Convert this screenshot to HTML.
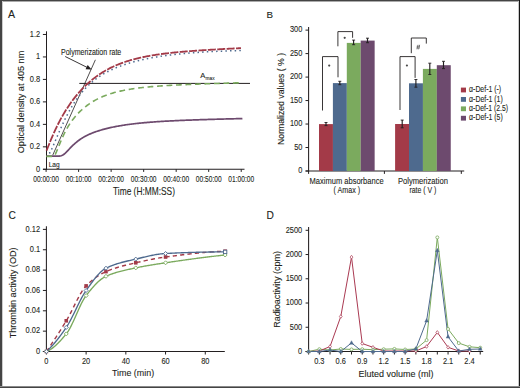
<!DOCTYPE html>
<html><head><meta charset="utf-8"><style>
html,body{margin:0;padding:0;background:#fff;}
body{width:520px;height:388px;overflow:hidden;position:relative;}
svg{position:absolute;left:0;top:0;display:block;}
text{font-family:"Liberation Sans", sans-serif;stroke:#231f20;stroke-width:0.1px;}
</style></head><body>
<svg width="520" height="388" viewBox="0 0 520 388">
<rect x="0" y="0" width="520" height="388" fill="#fff"/>
<text x="8.00" y="17.80" font-size="10.6" text-anchor="start" fill="#231f20" >A</text>
<text x="266.60" y="17.70" font-size="9.8" text-anchor="start" fill="#231f20" >B</text>
<text x="8.40" y="218.90" font-size="10.2" text-anchor="start" fill="#231f20" >C</text>
<text x="266.60" y="218.90" font-size="10.2" text-anchor="start" fill="#231f20" >D</text>
<line x1="46.50" y1="31.30" x2="46.50" y2="169.80" stroke="#231f20" stroke-width="1.05" />
<line x1="43.00" y1="169.30" x2="244.50" y2="169.30" stroke="#231f20" stroke-width="1.05" />
<line x1="42.90" y1="169.30" x2="46.50" y2="169.30" stroke="#231f20" stroke-width="1.0" />
<text x="40.10" y="171.60" font-size="8.8" text-anchor="end" fill="#231f20" textLength="4.14" lengthAdjust="spacingAndGlyphs" >0</text>
<line x1="42.90" y1="146.83" x2="46.50" y2="146.83" stroke="#231f20" stroke-width="1.0" />
<text x="40.10" y="149.13" font-size="8.8" text-anchor="end" fill="#231f20" textLength="10.34" lengthAdjust="spacingAndGlyphs" >0.2</text>
<line x1="42.90" y1="124.36" x2="46.50" y2="124.36" stroke="#231f20" stroke-width="1.0" />
<text x="40.10" y="126.66" font-size="8.8" text-anchor="end" fill="#231f20" textLength="10.34" lengthAdjust="spacingAndGlyphs" >0.4</text>
<line x1="42.90" y1="101.89" x2="46.50" y2="101.89" stroke="#231f20" stroke-width="1.0" />
<text x="40.10" y="104.19" font-size="8.8" text-anchor="end" fill="#231f20" textLength="10.34" lengthAdjust="spacingAndGlyphs" >0.6</text>
<line x1="42.90" y1="79.42" x2="46.50" y2="79.42" stroke="#231f20" stroke-width="1.0" />
<text x="40.10" y="81.72" font-size="8.8" text-anchor="end" fill="#231f20" textLength="10.34" lengthAdjust="spacingAndGlyphs" >0.8</text>
<line x1="42.90" y1="56.95" x2="46.50" y2="56.95" stroke="#231f20" stroke-width="1.0" />
<text x="40.10" y="59.25" font-size="8.8" text-anchor="end" fill="#231f20" textLength="4.14" lengthAdjust="spacingAndGlyphs" >1</text>
<line x1="42.90" y1="34.48" x2="46.50" y2="34.48" stroke="#231f20" stroke-width="1.0" />
<text x="40.10" y="36.78" font-size="8.8" text-anchor="end" fill="#231f20" textLength="10.34" lengthAdjust="spacingAndGlyphs" >1.2</text>
<line x1="46.10" y1="169.30" x2="46.10" y2="171.90" stroke="#231f20" stroke-width="1.0" />
<text x="46.10" y="181.70" font-size="8.6" text-anchor="middle" fill="#231f20" textLength="25.8" lengthAdjust="spacingAndGlyphs" >00:00:00</text>
<line x1="78.62" y1="169.30" x2="78.62" y2="171.90" stroke="#231f20" stroke-width="1.0" />
<text x="78.62" y="181.70" font-size="8.6" text-anchor="middle" fill="#231f20" textLength="25.8" lengthAdjust="spacingAndGlyphs" >00:10:00</text>
<line x1="111.14" y1="169.30" x2="111.14" y2="171.90" stroke="#231f20" stroke-width="1.0" />
<text x="111.14" y="181.70" font-size="8.6" text-anchor="middle" fill="#231f20" textLength="25.8" lengthAdjust="spacingAndGlyphs" >00:20:00</text>
<line x1="143.66" y1="169.30" x2="143.66" y2="171.90" stroke="#231f20" stroke-width="1.0" />
<text x="143.66" y="181.70" font-size="8.6" text-anchor="middle" fill="#231f20" textLength="25.8" lengthAdjust="spacingAndGlyphs" >00:30:00</text>
<line x1="176.18" y1="169.30" x2="176.18" y2="171.90" stroke="#231f20" stroke-width="1.0" />
<text x="176.18" y="181.70" font-size="8.6" text-anchor="middle" fill="#231f20" textLength="25.8" lengthAdjust="spacingAndGlyphs" >00:40:00</text>
<line x1="208.70" y1="169.30" x2="208.70" y2="171.90" stroke="#231f20" stroke-width="1.0" />
<text x="208.70" y="181.70" font-size="8.6" text-anchor="middle" fill="#231f20" textLength="25.8" lengthAdjust="spacingAndGlyphs" >00:50:00</text>
<line x1="241.22" y1="169.30" x2="241.22" y2="171.90" stroke="#231f20" stroke-width="1.0" />
<text x="241.22" y="181.70" font-size="8.6" text-anchor="middle" fill="#231f20" textLength="25.8" lengthAdjust="spacingAndGlyphs" >01:00:00</text>
<text x="144.00" y="194.90" font-size="10.3" text-anchor="middle" fill="#231f20" textLength="62" lengthAdjust="spacingAndGlyphs" >Time (H:MM:SS)</text>
<text transform="translate(24.40,102.00) rotate(-90)" font-size="9.6" text-anchor="middle" fill="#231f20" textLength="102.4" lengthAdjust="spacingAndGlyphs" >Optical density at 405 nm</text>
<line x1="79.30" y1="83.40" x2="250.00" y2="83.40" stroke="#231f20" stroke-width="1.0" />
<text x="200.30" y="77.90" font-size="7.6" text-anchor="start" fill="#231f20" >A</text>
<text x="205.60" y="80.20" font-size="5.8" text-anchor="start" fill="#231f20" textLength="9" lengthAdjust="spacingAndGlyphs" >max</text>
<text x="61.00" y="55.30" font-size="9.0" text-anchor="start" fill="#231f20" textLength="60.3" lengthAdjust="spacingAndGlyphs" >Polymerization rate</text>
<line x1="65.20" y1="56.50" x2="87.50" y2="67.60" stroke="#231f20" stroke-width="0.9" />
<path d="M91.6,69.6 L85.6,69.2 L87.7,65.1 Z" fill="#231f20"/>
<line x1="52.80" y1="155.00" x2="95.40" y2="59.80" stroke="#231f20" stroke-width="0.8" />
<text x="48.70" y="167.00" font-size="7.8" text-anchor="start" fill="#231f20" textLength="11" lengthAdjust="spacingAndGlyphs" >Lag</text>
<path d="M46.30,156.20 L47.30,156.20 L48.30,156.20 L49.30,156.20 L50.30,156.20 L51.30,156.20 L52.30,156.20 L53.30,156.20 L54.30,156.20 L55.30,156.20 L56.30,156.20 L57.30,156.19 L58.30,156.16 L59.30,156.09 L60.30,155.96 L61.30,155.71 L62.30,155.32 L63.30,154.76 L64.30,154.03 L65.30,153.16 L66.30,152.18 L67.30,151.14 L68.30,150.07 L69.30,149.00 L70.30,147.95 L71.30,146.92 L72.30,145.91 L73.30,144.95 L74.30,144.02 L75.30,143.13 L76.30,142.28 L77.30,141.47 L78.30,140.69 L79.30,139.96 L80.30,139.26 L81.30,138.59 L82.30,137.96 L83.30,137.36 L84.30,136.79 L85.30,136.24 L86.30,135.72 L87.30,135.22 L88.30,134.75 L89.30,134.29 L90.30,133.85 L91.30,133.43 L92.30,133.03 L93.30,132.64 L94.30,132.27 L95.30,131.91 L96.30,131.56 L97.30,131.22 L98.30,130.89 L99.30,130.58 L100.30,130.27 L101.30,129.97 L102.30,129.69 L103.30,129.41 L104.30,129.14 L105.30,128.87 L106.30,128.62 L107.30,128.37 L108.30,128.13 L109.30,127.90 L110.30,127.67 L111.30,127.45 L112.30,127.24 L113.30,127.03 L114.30,126.82 L115.30,126.63 L116.30,126.44 L117.30,126.25 L118.30,126.07 L119.30,125.89 L120.30,125.72 L121.30,125.55 L122.30,125.39 L123.30,125.23 L124.30,125.08 L125.30,124.93 L126.30,124.78 L127.30,124.64 L128.30,124.50 L129.30,124.37 L130.30,124.24 L131.30,124.11 L132.30,123.99 L133.30,123.87 L134.30,123.75 L135.30,123.63 L136.30,123.52 L137.30,123.41 L138.30,123.31 L139.30,123.20 L140.30,123.10 L141.30,123.00 L142.30,122.90 L143.30,122.81 L144.30,122.72 L145.30,122.63 L146.30,122.54 L147.30,122.46 L148.30,122.37 L149.30,122.29 L150.30,122.21 L151.30,122.13 L152.30,122.06 L153.30,121.98 L154.30,121.91 L155.30,121.84 L156.30,121.77 L157.30,121.70 L158.30,121.64 L159.30,121.57 L160.30,121.51 L161.30,121.44 L162.30,121.38 L163.30,121.32 L164.30,121.27 L165.30,121.21 L166.30,121.15 L167.30,121.10 L168.30,121.04 L169.30,120.99 L170.30,120.94 L171.30,120.89 L172.30,120.84 L173.30,120.79 L174.30,120.74 L175.30,120.69 L176.30,120.64 L177.30,120.60 L178.30,120.55 L179.30,120.51 L180.30,120.46 L181.30,120.42 L182.30,120.38 L183.30,120.34 L184.30,120.30 L185.30,120.26 L186.30,120.22 L187.30,120.18 L188.30,120.14 L189.30,120.10 L190.30,120.06 L191.30,120.03 L192.30,119.99 L193.30,119.96 L194.30,119.92 L195.30,119.89 L196.30,119.85 L197.30,119.82 L198.30,119.78 L199.30,119.75 L200.30,119.72 L201.30,119.68 L202.30,119.65 L203.30,119.62 L204.30,119.59 L205.30,119.56 L206.30,119.53 L207.30,119.50 L208.30,119.47 L209.30,119.44 L210.30,119.41 L211.30,119.38 L212.30,119.35 L213.30,119.32 L214.30,119.29 L215.30,119.26 L216.30,119.24 L217.30,119.21 L218.30,119.18 L219.30,119.15 L220.30,119.13 L221.30,119.10 L222.30,119.07 L223.30,119.05 L224.30,119.02 L225.30,119.00 L226.30,118.97 L227.30,118.94 L228.30,118.92 L229.30,118.89 L230.30,118.87 L231.30,118.84 L232.30,118.82 L233.30,118.79 L234.30,118.77 L235.30,118.74 L236.30,118.72 L237.30,118.70 L238.30,118.67 L239.30,118.65 L240.30,118.63 L241.30,118.61 L242.30,118.60 L242.40,118.59" fill="none" stroke="#6d4a6e" stroke-width="1.7"/>
<path d="M46.30,156.40 L47.30,156.40 L48.30,156.40 L49.30,156.40 L50.30,156.40 L51.30,156.39 L52.30,156.37 L53.30,156.20 L54.30,155.57 L55.30,154.21 L56.30,152.15 L57.30,149.76 L58.30,147.29 L59.30,144.83 L60.30,142.42 L61.30,140.07 L62.30,137.79 L63.30,135.61 L64.30,133.52 L65.30,131.53 L66.30,129.64 L67.30,127.86 L68.30,126.16 L69.30,124.56 L70.30,123.04 L71.30,121.60 L72.30,120.23 L73.30,118.92 L74.30,117.67 L75.30,116.48 L76.30,115.33 L77.30,114.23 L78.30,113.17 L79.30,112.15 L80.30,111.17 L81.30,110.23 L82.30,109.32 L83.30,108.45 L84.30,107.61 L85.30,106.79 L86.30,106.01 L87.30,105.26 L88.30,104.54 L89.30,103.84 L90.30,103.16 L91.30,102.51 L92.30,101.89 L93.30,101.29 L94.30,100.71 L95.30,100.15 L96.30,99.61 L97.30,99.09 L98.30,98.59 L99.30,98.10 L100.30,97.64 L101.30,97.19 L102.30,96.75 L103.30,96.33 L104.30,95.93 L105.30,95.54 L106.30,95.17 L107.30,94.81 L108.30,94.46 L109.30,94.12 L110.30,93.79 L111.30,93.48 L112.30,93.18 L113.30,92.88 L114.30,92.60 L115.30,92.33 L116.30,92.06 L117.30,91.81 L118.30,91.56 L119.30,91.33 L120.30,91.10 L121.30,90.87 L122.30,90.66 L123.30,90.45 L124.30,90.25 L125.30,90.06 L126.30,89.87 L127.30,89.69 L128.30,89.51 L129.30,89.34 L130.30,89.18 L131.30,89.02 L132.30,88.86 L133.30,88.71 L134.30,88.57 L135.30,88.43 L136.30,88.29 L137.30,88.16 L138.30,88.03 L139.30,87.91 L140.30,87.79 L141.30,87.67 L142.30,87.56 L143.30,87.45 L144.30,87.34 L145.30,87.24 L146.30,87.13 L147.30,87.04 L148.30,86.94 L149.30,86.85 L150.30,86.76 L151.30,86.67 L152.30,86.58 L153.30,86.50 L154.30,86.42 L155.30,86.34 L156.30,86.26 L157.30,86.19 L158.30,86.11 L159.30,86.04 L160.30,85.97 L161.30,85.90 L162.30,85.84 L163.30,85.77 L164.30,85.71 L165.30,85.64 L166.30,85.58 L167.30,85.52 L168.30,85.46 L169.30,85.41 L170.30,85.35 L171.30,85.30 L172.30,85.24 L173.30,85.19 L174.30,85.14 L175.30,85.08 L176.30,85.03 L177.30,84.99 L178.30,84.94 L179.30,84.89 L180.30,84.84 L181.30,84.80 L182.30,84.75 L183.30,84.71 L184.30,84.66 L185.30,84.62 L186.30,84.58 L187.30,84.53 L188.30,84.49 L189.30,84.45 L190.30,84.41 L191.30,84.37 L192.30,84.33 L193.30,84.29 L194.30,84.25 L195.30,84.22 L196.30,84.18 L197.30,84.14 L198.30,84.10 L199.30,84.07 L200.30,84.03 L201.30,84.00 L202.30,83.96 L203.30,83.93 L204.30,83.89 L205.30,83.86 L206.30,83.82 L207.30,83.79 L208.30,83.76 L209.30,83.72 L210.30,83.69 L211.30,83.66 L212.30,83.62 L213.30,83.59 L214.30,83.56 L215.30,83.53 L216.30,83.49 L217.30,83.46 L218.30,83.43 L219.30,83.40 L220.30,83.37 L221.30,83.34 L222.30,83.31 L223.30,83.28 L224.30,83.25 L225.30,83.22 L226.30,83.19 L227.30,83.16 L228.30,83.13 L229.30,83.10 L230.30,83.07 L231.30,83.04 L232.30,83.01 L233.30,82.98 L234.30,82.95 L235.30,82.92 L236.30,82.89 L237.30,82.86 L238.30,82.84 L238.90,82.82" fill="none" stroke="#7baa5e" stroke-width="1.6" stroke-dasharray="5.8 3.7"/>
<path d="M49.00,152.91 L50.00,152.74 L51.00,150.73 L52.00,148.53 L53.00,146.25 L54.00,143.92 L55.00,141.58 L56.00,139.22 L57.00,136.88 L58.00,134.55 L59.00,132.25 L60.00,129.98 L61.00,127.75 L62.00,125.56 L63.00,123.41 L64.00,121.31 L65.00,119.26 L66.00,117.26 L67.00,115.31 L68.00,113.42 L69.00,111.57 L70.00,109.79 L71.00,108.05 L72.00,106.36 L73.00,104.73 L74.00,103.15 L75.00,101.62 L76.00,100.14 L77.00,98.71 L78.00,97.32 L79.00,95.98 L80.00,94.68 L81.00,93.43 L82.00,92.22 L83.00,91.05 L84.00,89.92 L85.00,88.83 L86.00,87.78 L87.00,86.76 L88.00,85.77 L89.00,84.82 L90.00,83.90 L91.00,83.01 L92.00,82.14 L93.00,81.31 L94.00,80.50 L95.00,79.72 L96.00,78.97 L97.00,78.24 L98.00,77.53 L99.00,76.84 L100.00,76.18 L101.00,75.53 L102.00,74.90 L103.00,74.30 L104.00,73.71 L105.00,73.14 L106.00,72.58 L107.00,72.04 L108.00,71.52 L109.00,71.01 L110.00,70.51 L111.00,70.03 L112.00,69.56 L113.00,69.10 L114.00,68.66 L115.00,68.22 L116.00,67.80 L117.00,67.39 L118.00,66.99 L119.00,66.60 L120.00,66.22 L121.00,65.85 L122.00,65.49 L123.00,65.14 L124.00,64.79 L125.00,64.45 L126.00,64.13 L127.00,63.80 L128.00,63.49 L129.00,63.19 L130.00,62.89 L131.00,62.59 L132.00,62.31 L133.00,62.03 L134.00,61.76 L135.00,61.49 L136.00,61.23 L137.00,60.98 L138.00,60.73 L139.00,60.48 L140.00,60.25 L141.00,60.01 L142.00,59.78 L143.00,59.56 L144.00,59.34 L145.00,59.13 L146.00,58.92 L147.00,58.72 L148.00,58.52 L149.00,58.32 L150.00,58.13 L151.00,57.94 L152.00,57.76 L153.00,57.58 L154.00,57.40 L155.00,57.23 L156.00,57.06 L157.00,56.90 L158.00,56.74 L159.00,56.58 L160.00,56.42 L161.00,56.27 L162.00,56.12 L163.00,55.98 L164.00,55.84 L165.00,55.70 L166.00,55.56 L167.00,55.43 L168.00,55.30 L169.00,55.17 L170.00,55.04 L171.00,54.92 L172.00,54.80 L173.00,54.68 L174.00,54.57 L175.00,54.46 L176.00,54.35 L177.00,54.24 L178.00,54.13 L179.00,54.03 L180.00,53.93 L181.00,53.83 L182.00,53.73 L183.00,53.64 L184.00,53.54 L185.00,53.45 L186.00,53.36 L187.00,53.28 L188.00,53.19 L189.00,53.11 L190.00,53.02 L191.00,52.94 L192.00,52.86 L193.00,52.79 L194.00,52.71 L195.00,52.64 L196.00,52.57 L197.00,52.49 L198.00,52.42 L199.00,52.36 L200.00,52.29 L201.00,52.23 L202.00,52.16 L203.00,52.10 L204.00,52.04 L205.00,51.98 L206.00,51.92 L207.00,51.86 L208.00,51.81 L209.00,51.75 L210.00,51.70 L211.00,51.64 L212.00,51.59 L213.00,51.54 L214.00,51.49 L215.00,51.44 L216.00,51.40 L217.00,51.35 L218.00,51.30 L219.00,51.26 L220.00,51.21 L221.00,51.17 L222.00,51.13 L223.00,51.09 L224.00,51.05 L225.00,51.01 L226.00,50.97 L227.00,50.93 L228.00,50.90 L229.00,50.86 L230.00,50.82 L231.00,50.79 L232.00,50.76 L233.00,50.72 L234.00,50.69 L235.00,50.66 L236.00,50.63 L237.00,50.60 L238.00,50.57 L239.00,50.54 L240.00,50.51 L241.00,50.48" fill="none" stroke="#4e6a8e" stroke-width="1.5" stroke-dasharray="1.5 3.15"/>
<path d="M46.50,150.59 L47.50,148.21 L48.50,145.71 L49.50,143.22 L50.50,140.77 L51.50,138.37 L52.50,136.03 L53.50,133.75 L54.50,131.53 L55.50,129.38 L56.50,127.28 L57.50,125.24 L58.50,123.25 L59.50,121.33 L60.50,119.45 L61.50,117.63 L62.50,115.85 L63.50,114.12 L64.50,112.44 L65.50,110.81 L66.50,109.21 L67.50,107.66 L68.50,106.15 L69.50,104.68 L70.50,103.24 L71.50,101.84 L72.50,100.48 L73.50,99.15 L74.50,97.86 L75.50,96.60 L76.50,95.37 L77.50,94.17 L78.50,93.01 L79.50,91.87 L80.50,90.76 L81.50,89.68 L82.50,88.62 L83.50,87.60 L84.50,86.60 L85.50,85.62 L86.50,84.67 L87.50,83.74 L88.50,82.84 L89.50,81.96 L90.50,81.10 L91.50,80.26 L92.50,79.45 L93.50,78.65 L94.50,77.88 L95.50,77.13 L96.50,76.39 L97.50,75.68 L98.50,74.98 L99.50,74.30 L100.50,73.64 L101.50,73.00 L102.50,72.37 L103.50,71.76 L104.50,71.17 L105.50,70.59 L106.50,70.02 L107.50,69.48 L108.50,68.94 L109.50,68.42 L110.50,67.91 L111.50,67.42 L112.50,66.94 L113.50,66.48 L114.50,66.02 L115.50,65.58 L116.50,65.15 L117.50,64.73 L118.50,64.32 L119.50,63.92 L120.50,63.54 L121.50,63.16 L122.50,62.80 L123.50,62.44 L124.50,62.09 L125.50,61.76 L126.50,61.43 L127.50,61.11 L128.50,60.80 L129.50,60.49 L130.50,60.20 L131.50,59.91 L132.50,59.63 L133.50,59.36 L134.50,59.10 L135.50,58.84 L136.50,58.59 L137.50,58.34 L138.50,58.10 L139.50,57.87 L140.50,57.65 L141.50,57.43 L142.50,57.21 L143.50,57.00 L144.50,56.80 L145.50,56.60 L146.50,56.41 L147.50,56.22 L148.50,56.03 L149.50,55.86 L150.50,55.68 L151.50,55.51 L152.50,55.34 L153.50,55.18 L154.50,55.02 L155.50,54.87 L156.50,54.72 L157.50,54.57 L158.50,54.43 L159.50,54.29 L160.50,54.15 L161.50,54.01 L162.50,53.88 L163.50,53.75 L164.50,53.63 L165.50,53.51 L166.50,53.39 L167.50,53.27 L168.50,53.15 L169.50,53.04 L170.50,52.93 L171.50,52.82 L172.50,52.72 L173.50,52.61 L174.50,52.51 L175.50,52.41 L176.50,52.31 L177.50,52.22 L178.50,52.12 L179.50,52.03 L180.50,51.94 L181.50,51.85 L182.50,51.76 L183.50,51.68 L184.50,51.59 L185.50,51.51 L186.50,51.43 L187.50,51.35 L188.50,51.27 L189.50,51.19 L190.50,51.11 L191.50,51.04 L192.50,50.96 L193.50,50.89 L194.50,50.82 L195.50,50.74 L196.50,50.67 L197.50,50.60 L198.50,50.53 L199.50,50.47 L200.50,50.40 L201.50,50.33 L202.50,50.27 L203.50,50.20 L204.50,50.14 L205.50,50.07 L206.50,50.01 L207.50,49.95 L208.50,49.89 L209.50,49.83 L210.50,49.77 L211.50,49.71 L212.50,49.65 L213.50,49.59 L214.50,49.53 L215.50,49.47 L216.50,49.41 L217.50,49.36 L218.50,49.30 L219.50,49.24 L220.50,49.19 L221.50,49.13 L222.50,49.08 L223.50,49.02 L224.50,48.97 L225.50,48.91 L226.50,48.86 L227.50,48.81 L228.50,48.75 L229.50,48.70 L230.50,48.65 L231.50,48.60 L232.50,48.55 L233.50,48.49 L234.50,48.44 L235.50,48.39 L236.50,48.34 L237.50,48.29 L238.50,48.24 L239.50,48.19 L240.50,48.14 L241.00,48.11" fill="none" stroke="#a33a48" stroke-width="1.8" stroke-dasharray="8 1.4"/>
<line x1="308.60" y1="27.00" x2="308.60" y2="171.50" stroke="#231f20" stroke-width="1.05" />
<line x1="305.60" y1="171.00" x2="464.20" y2="171.00" stroke="#231f20" stroke-width="1.05" />
<line x1="305.50" y1="171.00" x2="308.60" y2="171.00" stroke="#231f20" stroke-width="1.0" />
<text x="302.40" y="173.30" font-size="8.8" text-anchor="end" fill="#231f20" textLength="4.14" lengthAdjust="spacingAndGlyphs" >0</text>
<line x1="305.50" y1="147.52" x2="308.60" y2="147.52" stroke="#231f20" stroke-width="1.0" />
<text x="302.40" y="149.82" font-size="8.8" text-anchor="end" fill="#231f20" textLength="8.27" lengthAdjust="spacingAndGlyphs" >50</text>
<line x1="305.50" y1="124.04" x2="308.60" y2="124.04" stroke="#231f20" stroke-width="1.0" />
<text x="302.40" y="126.34" font-size="8.8" text-anchor="end" fill="#231f20" textLength="12.41" lengthAdjust="spacingAndGlyphs" >100</text>
<line x1="305.50" y1="100.56" x2="308.60" y2="100.56" stroke="#231f20" stroke-width="1.0" />
<text x="302.40" y="102.86" font-size="8.8" text-anchor="end" fill="#231f20" textLength="12.41" lengthAdjust="spacingAndGlyphs" >150</text>
<line x1="305.50" y1="77.08" x2="308.60" y2="77.08" stroke="#231f20" stroke-width="1.0" />
<text x="302.40" y="79.38" font-size="8.8" text-anchor="end" fill="#231f20" textLength="12.41" lengthAdjust="spacingAndGlyphs" >200</text>
<line x1="305.50" y1="53.60" x2="308.60" y2="53.60" stroke="#231f20" stroke-width="1.0" />
<text x="302.40" y="55.90" font-size="8.8" text-anchor="end" fill="#231f20" textLength="12.41" lengthAdjust="spacingAndGlyphs" >250</text>
<line x1="305.50" y1="30.12" x2="308.60" y2="30.12" stroke="#231f20" stroke-width="1.0" />
<text x="302.40" y="32.42" font-size="8.8" text-anchor="end" fill="#231f20" textLength="12.41" lengthAdjust="spacingAndGlyphs" >300</text>
<line x1="308.60" y1="171.00" x2="308.60" y2="173.90" stroke="#231f20" stroke-width="1.0" />
<line x1="384.40" y1="171.00" x2="384.40" y2="173.90" stroke="#231f20" stroke-width="1.0" />
<line x1="461.30" y1="171.00" x2="461.30" y2="173.90" stroke="#231f20" stroke-width="1.0" />
<rect x="319.00" y="124.10" width="13.95" height="46.90" fill="#a33a48"/>
<rect x="332.90" y="83.10" width="13.95" height="87.90" fill="#4e6a8e"/>
<rect x="346.80" y="42.90" width="13.95" height="128.10" fill="#7baa5e"/>
<rect x="360.70" y="40.60" width="13.95" height="130.40" fill="#6d4a6e"/>
<rect x="395.10" y="124.00" width="13.95" height="47.00" fill="#a33a48"/>
<rect x="409.00" y="83.30" width="13.95" height="87.70" fill="#4e6a8e"/>
<rect x="422.90" y="68.90" width="13.95" height="102.10" fill="#7baa5e"/>
<rect x="436.80" y="65.20" width="13.95" height="105.80" fill="#6d4a6e"/>
<line x1="326.00" y1="122.50" x2="326.00" y2="125.60" stroke="#231f20" stroke-width="1.15" />
<line x1="324.50" y1="122.50" x2="327.50" y2="122.50" stroke="#231f20" stroke-width="0.9" />
<line x1="324.50" y1="125.60" x2="327.50" y2="125.60" stroke="#231f20" stroke-width="0.9" />
<line x1="339.80" y1="81.30" x2="339.80" y2="84.70" stroke="#231f20" stroke-width="1.15" />
<line x1="338.30" y1="81.30" x2="341.30" y2="81.30" stroke="#231f20" stroke-width="0.9" />
<line x1="338.30" y1="84.70" x2="341.30" y2="84.70" stroke="#231f20" stroke-width="0.9" />
<line x1="353.60" y1="40.10" x2="353.60" y2="44.70" stroke="#231f20" stroke-width="1.15" />
<line x1="352.10" y1="40.10" x2="355.10" y2="40.10" stroke="#231f20" stroke-width="0.9" />
<line x1="352.10" y1="44.70" x2="355.10" y2="44.70" stroke="#231f20" stroke-width="0.9" />
<line x1="367.50" y1="38.20" x2="367.50" y2="42.70" stroke="#231f20" stroke-width="1.15" />
<line x1="366.00" y1="38.20" x2="369.00" y2="38.20" stroke="#231f20" stroke-width="0.9" />
<line x1="366.00" y1="42.70" x2="369.00" y2="42.70" stroke="#231f20" stroke-width="0.9" />
<line x1="402.20" y1="120.10" x2="402.20" y2="127.80" stroke="#231f20" stroke-width="1.15" />
<line x1="400.70" y1="120.10" x2="403.70" y2="120.10" stroke="#231f20" stroke-width="0.9" />
<line x1="400.70" y1="127.80" x2="403.70" y2="127.80" stroke="#231f20" stroke-width="0.9" />
<line x1="415.90" y1="79.50" x2="415.90" y2="87.20" stroke="#231f20" stroke-width="1.15" />
<line x1="414.40" y1="79.50" x2="417.40" y2="79.50" stroke="#231f20" stroke-width="0.9" />
<line x1="414.40" y1="87.20" x2="417.40" y2="87.20" stroke="#231f20" stroke-width="0.9" />
<line x1="429.80" y1="63.20" x2="429.80" y2="74.50" stroke="#231f20" stroke-width="1.15" />
<line x1="428.30" y1="63.20" x2="431.30" y2="63.20" stroke="#231f20" stroke-width="0.9" />
<line x1="428.30" y1="74.50" x2="431.30" y2="74.50" stroke="#231f20" stroke-width="0.9" />
<line x1="443.50" y1="61.30" x2="443.50" y2="68.60" stroke="#231f20" stroke-width="1.15" />
<line x1="442.00" y1="61.30" x2="445.00" y2="61.30" stroke="#231f20" stroke-width="0.9" />
<line x1="442.00" y1="68.60" x2="445.00" y2="68.60" stroke="#231f20" stroke-width="0.9" />
<path d="M322.5,110.5 L322.5,56.6 L338.0,56.6 L338.0,77.3" fill="none" stroke="#231f20" stroke-width="0.9"/>
<path d="M337.9,46.3 L337.9,31.6 L352.6,31.6 L352.6,37.8" fill="none" stroke="#231f20" stroke-width="0.9"/>
<path d="M400.0,110.0 L400.0,56.6 L415.1,56.6 L415.1,77.9" fill="none" stroke="#231f20" stroke-width="0.9"/>
<path d="M411.3,53.2 L411.3,38.0 L426.3,38.0 L426.3,43.6" fill="none" stroke="#231f20" stroke-width="0.9"/>
<circle cx="329.20" cy="65.60" r="1.1" fill="#4a4a4a"/>
<circle cx="344.70" cy="37.80" r="1.1" fill="#4a4a4a"/>
<circle cx="406.90" cy="65.50" r="1.1" fill="#4a4a4a"/>
<line x1="417.00" y1="49.30" x2="418.00" y2="44.80" stroke="#444" stroke-width="0.7" />
<line x1="418.60" y1="49.30" x2="419.60" y2="44.80" stroke="#444" stroke-width="0.7" />
<line x1="416.60" y1="46.30" x2="420.00" y2="46.30" stroke="#555" stroke-width="0.6" />
<line x1="416.40" y1="47.90" x2="419.80" y2="47.90" stroke="#555" stroke-width="0.6" />
<text x="346.60" y="184.10" font-size="8.8" text-anchor="middle" fill="#231f20" textLength="74" lengthAdjust="spacingAndGlyphs" >Maximum absorbance</text>
<text x="346.80" y="192.50" font-size="8.8" text-anchor="middle" fill="#231f20" textLength="26.6" lengthAdjust="spacingAndGlyphs" >( Amax )</text>
<text x="422.90" y="184.30" font-size="8.8" text-anchor="middle" fill="#231f20" textLength="50" lengthAdjust="spacingAndGlyphs" >Polymerization</text>
<text x="422.90" y="192.90" font-size="8.8" text-anchor="middle" fill="#231f20" textLength="27" lengthAdjust="spacingAndGlyphs" >rate ( V )</text>
<text transform="translate(284.00,98.90) rotate(-90)" font-size="8.6" text-anchor="middle" fill="#231f20" textLength="92" lengthAdjust="spacingAndGlyphs" >Normalized values ( % )</text>
<rect x="460.9" y="87.60" width="5.1" height="4.8" fill="#a33a48"/>
<text x="469.10" y="92.20" font-size="8.6" text-anchor="start" fill="#231f20" textLength="32" lengthAdjust="spacingAndGlyphs" >α-Def-1 (-)</text>
<rect x="460.9" y="97.00" width="5.1" height="4.8" fill="#4e6a8e"/>
<text x="469.10" y="101.60" font-size="8.6" text-anchor="start" fill="#231f20" textLength="33.6" lengthAdjust="spacingAndGlyphs" >α-Def-1 (1)</text>
<rect x="460.9" y="106.40" width="5.1" height="4.8" fill="#7baa5e"/>
<text x="469.10" y="111.00" font-size="8.6" text-anchor="start" fill="#231f20" textLength="39" lengthAdjust="spacingAndGlyphs" >α-Def-1 (2.5)</text>
<rect x="460.9" y="115.80" width="5.1" height="4.8" fill="#6d4a6e"/>
<text x="469.10" y="120.40" font-size="8.6" text-anchor="start" fill="#231f20" textLength="33.6" lengthAdjust="spacingAndGlyphs" >α-Def-1 (5)</text>
<line x1="46.40" y1="226.30" x2="46.40" y2="352.00" stroke="#231f20" stroke-width="1.05" />
<line x1="42.90" y1="351.50" x2="224.80" y2="351.50" stroke="#231f20" stroke-width="1.05" />
<line x1="42.90" y1="351.50" x2="46.40" y2="351.50" stroke="#231f20" stroke-width="1.0" />
<text x="40.10" y="353.80" font-size="8.8" text-anchor="end" fill="#231f20" textLength="4.14" lengthAdjust="spacingAndGlyphs" >0</text>
<line x1="42.90" y1="331.15" x2="46.40" y2="331.15" stroke="#231f20" stroke-width="1.0" />
<text x="40.10" y="333.45" font-size="8.8" text-anchor="end" fill="#231f20" textLength="14.48" lengthAdjust="spacingAndGlyphs" >0.02</text>
<line x1="42.90" y1="310.80" x2="46.40" y2="310.80" stroke="#231f20" stroke-width="1.0" />
<text x="40.10" y="313.10" font-size="8.8" text-anchor="end" fill="#231f20" textLength="14.48" lengthAdjust="spacingAndGlyphs" >0.04</text>
<line x1="42.90" y1="290.45" x2="46.40" y2="290.45" stroke="#231f20" stroke-width="1.0" />
<text x="40.10" y="292.75" font-size="8.8" text-anchor="end" fill="#231f20" textLength="14.48" lengthAdjust="spacingAndGlyphs" >0.06</text>
<line x1="42.90" y1="270.10" x2="46.40" y2="270.10" stroke="#231f20" stroke-width="1.0" />
<text x="40.10" y="272.40" font-size="8.8" text-anchor="end" fill="#231f20" textLength="14.48" lengthAdjust="spacingAndGlyphs" >0.08</text>
<line x1="42.90" y1="249.75" x2="46.40" y2="249.75" stroke="#231f20" stroke-width="1.0" />
<text x="40.10" y="252.05" font-size="8.8" text-anchor="end" fill="#231f20" textLength="10.34" lengthAdjust="spacingAndGlyphs" >0.1</text>
<line x1="42.90" y1="229.40" x2="46.40" y2="229.40" stroke="#231f20" stroke-width="1.0" />
<text x="40.10" y="231.70" font-size="8.8" text-anchor="end" fill="#231f20" textLength="14.48" lengthAdjust="spacingAndGlyphs" >0.12</text>
<line x1="46.40" y1="351.50" x2="46.40" y2="354.50" stroke="#231f20" stroke-width="1.0" />
<text x="46.40" y="364.30" font-size="8.8" text-anchor="middle" fill="#231f20" textLength="4.14" lengthAdjust="spacingAndGlyphs" >0</text>
<line x1="86.12" y1="351.50" x2="86.12" y2="354.50" stroke="#231f20" stroke-width="1.0" />
<text x="86.12" y="364.30" font-size="8.8" text-anchor="middle" fill="#231f20" textLength="8.27" lengthAdjust="spacingAndGlyphs" >20</text>
<line x1="125.84" y1="351.50" x2="125.84" y2="354.50" stroke="#231f20" stroke-width="1.0" />
<text x="125.84" y="364.30" font-size="8.8" text-anchor="middle" fill="#231f20" textLength="8.27" lengthAdjust="spacingAndGlyphs" >40</text>
<line x1="165.56" y1="351.50" x2="165.56" y2="354.50" stroke="#231f20" stroke-width="1.0" />
<text x="165.56" y="364.30" font-size="8.8" text-anchor="middle" fill="#231f20" textLength="8.27" lengthAdjust="spacingAndGlyphs" >60</text>
<line x1="205.28" y1="351.50" x2="205.28" y2="354.50" stroke="#231f20" stroke-width="1.0" />
<text x="205.28" y="364.30" font-size="8.8" text-anchor="middle" fill="#231f20" textLength="8.27" lengthAdjust="spacingAndGlyphs" >80</text>
<text x="133.00" y="375.70" font-size="9.7" text-anchor="middle" fill="#231f20" textLength="42.2" lengthAdjust="spacingAndGlyphs" >Time (min)</text>
<text transform="translate(16.00,292.90) rotate(-90)" font-size="9.6" text-anchor="middle" fill="#231f20" textLength="90.9" lengthAdjust="spacingAndGlyphs" >Thrombin activity (OD)</text>
<path d="M46.40,351.50 L47.40,351.10 L48.40,350.63 L49.40,350.09 L50.40,349.50 L51.40,348.84 L52.40,348.12 L53.40,347.35 L54.40,346.53 L55.40,345.66 L56.40,344.74 L57.40,343.78 L58.40,342.79 L59.40,341.75 L60.40,340.68 L61.40,339.58 L62.40,338.46 L63.40,337.31 L64.40,336.13 L65.40,334.94 L66.40,333.73 L67.40,332.39 L68.40,330.86 L69.40,329.17 L70.40,327.33 L71.40,325.38 L72.40,323.32 L73.40,321.18 L74.40,318.97 L75.40,316.73 L76.40,314.47 L77.40,312.20 L78.40,309.96 L79.40,307.76 L80.40,305.62 L81.40,303.57 L82.40,301.62 L83.40,299.79 L84.40,298.10 L85.40,296.58 L86.40,295.24 L87.40,293.96 L88.40,292.69 L89.40,291.45 L90.40,290.22 L91.40,289.02 L92.40,287.85 L93.40,286.71 L94.40,285.61 L95.40,284.54 L96.40,283.51 L97.40,282.53 L98.40,281.59 L99.40,280.70 L100.40,279.87 L101.40,279.09 L102.40,278.36 L103.40,277.70 L104.40,277.10 L105.40,276.58 L106.40,276.11 L107.40,275.67 L108.40,275.25 L109.40,274.85 L110.40,274.46 L111.40,274.09 L112.40,273.74 L113.40,273.39 L114.40,273.06 L115.40,272.75 L116.40,272.44 L117.40,272.15 L118.40,271.86 L119.40,271.59 L120.40,271.33 L121.40,271.07 L122.40,270.82 L123.40,270.58 L124.40,270.35 L125.40,270.12 L126.40,269.89 L127.40,269.67 L128.40,269.45 L129.40,269.24 L130.40,269.03 L131.40,268.82 L132.40,268.61 L133.40,268.40 L134.40,268.19 L135.40,267.98 L136.40,267.77 L137.40,267.56 L138.40,267.35 L139.40,267.15 L140.40,266.96 L141.40,266.76 L142.40,266.57 L143.40,266.39 L144.40,266.20 L145.40,266.02 L146.40,265.85 L147.40,265.67 L148.40,265.50 L149.40,265.33 L150.40,265.16 L151.40,265.00 L152.40,264.83 L153.40,264.67 L154.40,264.51 L155.40,264.35 L156.40,264.20 L157.40,264.04 L158.40,263.89 L159.40,263.73 L160.40,263.58 L161.40,263.43 L162.40,263.28 L163.40,263.13 L164.40,262.97 L165.40,262.82 L166.40,262.67 L167.40,262.52 L168.40,262.37 L169.40,262.22 L170.40,262.08 L171.40,261.93 L172.40,261.78 L173.40,261.63 L174.40,261.49 L175.40,261.34 L176.40,261.19 L177.40,261.05 L178.40,260.91 L179.40,260.76 L180.40,260.62 L181.40,260.48 L182.40,260.33 L183.40,260.19 L184.40,260.05 L185.40,259.91 L186.40,259.77 L187.40,259.63 L188.40,259.49 L189.40,259.36 L190.40,259.22 L191.40,259.08 L192.40,258.95 L193.40,258.81 L194.40,258.68 L195.40,258.55 L196.40,258.41 L197.40,258.28 L198.40,258.15 L199.40,258.02 L200.40,257.89 L201.40,257.77 L202.40,257.64 L203.40,257.51 L204.40,257.39 L205.40,257.26 L206.40,257.14 L207.40,257.01 L208.40,256.89 L209.40,256.77 L210.40,256.65 L211.40,256.53 L212.40,256.41 L213.40,256.30 L214.40,256.18 L215.40,256.07 L216.40,255.95 L217.40,255.84 L218.40,255.73 L219.40,255.62 L220.40,255.51 L221.40,255.40 L222.40,255.29 L223.40,255.18 L224.40,255.08 L225.14,255.00" fill="none" stroke="#7baa5e" stroke-width="1.35"/>
<path d="M46.40,351.50 L47.40,350.05 L48.40,348.60 L49.40,347.13 L50.40,345.65 L51.40,344.16 L52.40,342.66 L53.40,341.15 L54.40,339.63 L55.40,338.09 L56.40,336.55 L57.40,335.00 L58.40,333.43 L59.40,331.86 L60.40,330.28 L61.40,328.68 L62.40,327.08 L63.40,325.47 L64.40,323.84 L65.40,322.21 L66.40,320.57 L67.40,318.87 L68.40,317.08 L69.40,315.22 L70.40,313.31 L71.40,311.36 L72.40,309.37 L73.40,307.37 L74.40,305.37 L75.40,303.37 L76.40,301.39 L77.40,299.45 L78.40,297.55 L79.40,295.71 L80.40,293.95 L81.40,292.27 L82.40,290.69 L83.40,289.23 L84.40,287.88 L85.40,286.68 L86.40,285.62 L87.40,284.62 L88.40,283.65 L89.40,282.72 L90.40,281.81 L91.40,280.94 L92.40,280.10 L93.40,279.29 L94.40,278.51 L95.40,277.76 L96.40,277.03 L97.40,276.34 L98.40,275.68 L99.40,275.05 L100.40,274.44 L101.40,273.87 L102.40,273.32 L103.40,272.81 L104.40,272.32 L105.40,271.85 L106.40,271.42 L107.40,271.00 L108.40,270.60 L109.40,270.21 L110.40,269.83 L111.40,269.46 L112.40,269.10 L113.40,268.76 L114.40,268.42 L115.40,268.10 L116.40,267.78 L117.40,267.47 L118.40,267.18 L119.40,266.88 L120.40,266.60 L121.40,266.32 L122.40,266.05 L123.40,265.79 L124.40,265.53 L125.40,265.28 L126.40,265.03 L127.40,264.78 L128.40,264.54 L129.40,264.30 L130.40,264.06 L131.40,263.82 L132.40,263.59 L133.40,263.35 L134.40,263.12 L135.40,262.89 L136.40,262.65 L137.40,262.42 L138.40,262.19 L139.40,261.96 L140.40,261.73 L141.40,261.50 L142.40,261.28 L143.40,261.06 L144.40,260.84 L145.40,260.62 L146.40,260.41 L147.40,260.20 L148.40,259.99 L149.40,259.78 L150.40,259.58 L151.40,259.38 L152.40,259.19 L153.40,258.99 L154.40,258.81 L155.40,258.62 L156.40,258.44 L157.40,258.27 L158.40,258.09 L159.40,257.93 L160.40,257.76 L161.40,257.61 L162.40,257.45 L163.40,257.30 L164.40,257.16 L165.40,257.02 L166.40,256.89 L167.40,256.75 L168.40,256.62 L169.40,256.49 L170.40,256.35 L171.40,256.22 L172.40,256.09 L173.40,255.96 L174.40,255.83 L175.40,255.70 L176.40,255.57 L177.40,255.44 L178.40,255.31 L179.40,255.19 L180.40,255.06 L181.40,254.94 L182.40,254.81 L183.40,254.69 L184.40,254.57 L185.40,254.45 L186.40,254.33 L187.40,254.22 L188.40,254.10 L189.40,253.99 L190.40,253.87 L191.40,253.76 L192.40,253.65 L193.40,253.54 L194.40,253.44 L195.40,253.33 L196.40,253.23 L197.40,253.13 L198.40,253.03 L199.40,252.93 L200.40,252.83 L201.40,252.74 L202.40,252.65 L203.40,252.56 L204.40,252.47 L205.40,252.39 L206.40,252.30 L207.40,252.22 L208.40,252.14 L209.40,252.06 L210.40,251.99 L211.40,251.92 L212.40,251.85 L213.40,251.78 L214.40,251.72 L215.40,251.66 L216.40,251.60 L217.40,251.54 L218.40,251.49 L219.40,251.44 L220.40,251.39 L221.40,251.34 L222.40,251.30 L223.40,251.26 L224.40,251.22 L225.14,251.20" fill="none" stroke="#a33a48" stroke-width="1.4" stroke-dasharray="4.2 3.2"/>
<path d="M46.40,351.50 L47.40,350.59 L48.40,349.64 L49.40,348.65 L50.40,347.63 L51.40,346.57 L52.40,345.48 L53.40,344.36 L54.40,343.20 L55.40,342.01 L56.40,340.80 L57.40,339.55 L58.40,338.27 L59.40,336.97 L60.40,335.65 L61.40,334.29 L62.40,332.92 L63.40,331.52 L64.40,330.10 L65.40,328.66 L66.40,327.19 L67.40,325.65 L68.40,323.99 L69.40,322.24 L70.40,320.41 L71.40,318.50 L72.40,316.53 L73.40,314.52 L74.40,312.48 L75.40,310.42 L76.40,308.35 L77.40,306.28 L78.40,304.24 L79.40,302.22 L80.40,300.26 L81.40,298.35 L82.40,296.51 L83.40,294.75 L84.40,293.09 L85.40,291.54 L86.40,290.11 L87.40,288.70 L88.40,287.30 L89.40,285.90 L90.40,284.51 L91.40,283.14 L92.40,281.79 L93.40,280.46 L94.40,279.17 L95.40,277.91 L96.40,276.69 L97.40,275.53 L98.40,274.41 L99.40,273.35 L100.40,272.35 L101.40,271.43 L102.40,270.57 L103.40,269.80 L104.40,269.11 L105.40,268.51 L106.40,267.99 L107.40,267.51 L108.40,267.05 L109.40,266.61 L110.40,266.19 L111.40,265.78 L112.40,265.39 L113.40,265.02 L114.40,264.66 L115.40,264.32 L116.40,263.99 L117.40,263.67 L118.40,263.37 L119.40,263.07 L120.40,262.79 L121.40,262.51 L122.40,262.25 L123.40,261.99 L124.40,261.74 L125.40,261.49 L126.40,261.25 L127.40,261.01 L128.40,260.78 L129.40,260.55 L130.40,260.32 L131.40,260.10 L132.40,259.87 L133.40,259.64 L134.40,259.42 L135.40,259.19 L136.40,258.95 L137.40,258.72 L138.40,258.48 L139.40,258.24 L140.40,258.00 L141.40,257.76 L142.40,257.52 L143.40,257.28 L144.40,257.04 L145.40,256.80 L146.40,256.57 L147.40,256.34 L148.40,256.12 L149.40,255.90 L150.40,255.68 L151.40,255.47 L152.40,255.27 L153.40,255.07 L154.40,254.88 L155.40,254.70 L156.40,254.53 L157.40,254.37 L158.40,254.22 L159.40,254.08 L160.40,253.95 L161.40,253.84 L162.40,253.74 L163.40,253.65 L164.40,253.57 L165.40,253.51 L166.40,253.46 L167.40,253.41 L168.40,253.36 L169.40,253.31 L170.40,253.26 L171.40,253.21 L172.40,253.17 L173.40,253.12 L174.40,253.08 L175.40,253.03 L176.40,252.99 L177.40,252.95 L178.40,252.90 L179.40,252.86 L180.40,252.82 L181.40,252.78 L182.40,252.74 L183.40,252.71 L184.40,252.67 L185.40,252.63 L186.40,252.60 L187.40,252.56 L188.40,252.53 L189.40,252.50 L190.40,252.46 L191.40,252.43 L192.40,252.40 L193.40,252.37 L194.40,252.34 L195.40,252.32 L196.40,252.29 L197.40,252.26 L198.40,252.24 L199.40,252.21 L200.40,252.19 L201.40,252.17 L202.40,252.15 L203.40,252.13 L204.40,252.11 L205.40,252.09 L206.40,252.07 L207.40,252.05 L208.40,252.03 L209.40,252.02 L210.40,252.00 L211.40,251.99 L212.40,251.98 L213.40,251.97 L214.40,251.96 L215.40,251.95 L216.40,251.94 L217.40,251.93 L218.40,251.92 L219.40,251.92 L220.40,251.91 L221.40,251.91 L222.40,251.90 L223.40,251.90 L224.40,251.90 L225.14,251.90" fill="none" stroke="#4e6a8e" stroke-width="1.35"/>
<rect x="44.60" y="349.70" width="3.6" height="3.6" fill="#a33a48"/>
<rect x="64.46" y="319.00" width="3.6" height="3.6" fill="#a33a48"/>
<rect x="84.32" y="284.10" width="3.6" height="3.6" fill="#a33a48"/>
<rect x="104.18" y="269.80" width="3.6" height="3.6" fill="#a33a48"/>
<rect x="133.97" y="261.00" width="3.6" height="3.6" fill="#a33a48"/>
<rect x="163.76" y="255.20" width="3.6" height="3.6" fill="#a33a48"/>
<rect x="223.34" y="249.40" width="3.6" height="3.6" fill="#a33a48"/>
<path d="M46.40,349.50 L48.40,351.50 L46.40,353.50 L44.40,351.50 Z" fill="#fff" stroke="#7baa5e" stroke-width="0.9"/>
<path d="M66.26,331.90 L68.26,333.90 L66.26,335.90 L64.26,333.90 Z" fill="#fff" stroke="#7baa5e" stroke-width="0.9"/>
<path d="M86.12,293.60 L88.12,295.60 L86.12,297.60 L84.12,295.60 Z" fill="#fff" stroke="#7baa5e" stroke-width="0.9"/>
<path d="M105.98,274.30 L107.98,276.30 L105.98,278.30 L103.98,276.30 Z" fill="#fff" stroke="#7baa5e" stroke-width="0.9"/>
<path d="M135.77,265.90 L137.77,267.90 L135.77,269.90 L133.77,267.90 Z" fill="#fff" stroke="#7baa5e" stroke-width="0.9"/>
<path d="M165.56,260.80 L167.56,262.80 L165.56,264.80 L163.56,262.80 Z" fill="#fff" stroke="#7baa5e" stroke-width="0.9"/>
<path d="M225.14,253.00 L227.14,255.00 L225.14,257.00 L223.14,255.00 Z" fill="#fff" stroke="#7baa5e" stroke-width="0.9"/>
<path d="M46.40,349.50 L48.40,351.50 L46.40,353.50 L44.40,351.50 Z" fill="#fff" stroke="#4e6a8e" stroke-width="0.9"/>
<path d="M66.26,325.40 L68.26,327.40 L66.26,329.40 L64.26,327.40 Z" fill="#fff" stroke="#4e6a8e" stroke-width="0.9"/>
<path d="M86.12,288.50 L88.12,290.50 L86.12,292.50 L84.12,290.50 Z" fill="#fff" stroke="#4e6a8e" stroke-width="0.9"/>
<path d="M105.98,266.20 L107.98,268.20 L105.98,270.20 L103.98,268.20 Z" fill="#fff" stroke="#4e6a8e" stroke-width="0.9"/>
<path d="M135.77,257.10 L137.77,259.10 L135.77,261.10 L133.77,259.10 Z" fill="#fff" stroke="#4e6a8e" stroke-width="0.9"/>
<path d="M165.56,251.50 L167.56,253.50 L165.56,255.50 L163.56,253.50 Z" fill="#fff" stroke="#4e6a8e" stroke-width="0.9"/>
<rect x="223.44" y="250.20" width="3.4" height="3.4" fill="#fff" stroke="#4e6a8e" stroke-width="0.9"/>
<line x1="308.60" y1="227.10" x2="308.60" y2="352.00" stroke="#231f20" stroke-width="1.05" />
<line x1="305.60" y1="351.50" x2="483.20" y2="351.50" stroke="#231f20" stroke-width="1.05" />
<line x1="305.60" y1="351.50" x2="308.60" y2="351.50" stroke="#231f20" stroke-width="1.0" />
<text x="302.20" y="353.80" font-size="8.8" text-anchor="end" fill="#231f20" textLength="4.14" lengthAdjust="spacingAndGlyphs" >0</text>
<line x1="305.60" y1="327.26" x2="308.60" y2="327.26" stroke="#231f20" stroke-width="1.0" />
<text x="302.20" y="329.56" font-size="8.8" text-anchor="end" fill="#231f20" textLength="12.41" lengthAdjust="spacingAndGlyphs" >500</text>
<line x1="305.60" y1="303.02" x2="308.60" y2="303.02" stroke="#231f20" stroke-width="1.0" />
<text x="302.20" y="305.32" font-size="8.8" text-anchor="end" fill="#231f20" textLength="16.55" lengthAdjust="spacingAndGlyphs" >1000</text>
<line x1="305.60" y1="278.78" x2="308.60" y2="278.78" stroke="#231f20" stroke-width="1.0" />
<text x="302.20" y="281.08" font-size="8.8" text-anchor="end" fill="#231f20" textLength="16.55" lengthAdjust="spacingAndGlyphs" >1500</text>
<line x1="305.60" y1="254.54" x2="308.60" y2="254.54" stroke="#231f20" stroke-width="1.0" />
<text x="302.20" y="256.84" font-size="8.8" text-anchor="end" fill="#231f20" textLength="16.55" lengthAdjust="spacingAndGlyphs" >2000</text>
<line x1="305.60" y1="230.30" x2="308.60" y2="230.30" stroke="#231f20" stroke-width="1.0" />
<text x="302.20" y="232.60" font-size="8.8" text-anchor="end" fill="#231f20" textLength="16.55" lengthAdjust="spacingAndGlyphs" >2500</text>
<line x1="308.60" y1="351.50" x2="308.60" y2="354.50" stroke="#231f20" stroke-width="1.0" />
<line x1="319.33" y1="351.50" x2="319.33" y2="354.50" stroke="#231f20" stroke-width="1.0" />
<text x="319.33" y="364.10" font-size="8.8" text-anchor="middle" fill="#231f20" textLength="10.34" lengthAdjust="spacingAndGlyphs" >0.3</text>
<line x1="330.05" y1="351.50" x2="330.05" y2="354.50" stroke="#231f20" stroke-width="1.0" />
<line x1="340.78" y1="351.50" x2="340.78" y2="354.50" stroke="#231f20" stroke-width="1.0" />
<text x="340.78" y="364.10" font-size="8.8" text-anchor="middle" fill="#231f20" textLength="10.34" lengthAdjust="spacingAndGlyphs" >0.6</text>
<line x1="351.51" y1="351.50" x2="351.51" y2="354.50" stroke="#231f20" stroke-width="1.0" />
<line x1="362.24" y1="351.50" x2="362.24" y2="354.50" stroke="#231f20" stroke-width="1.0" />
<text x="362.24" y="364.10" font-size="8.8" text-anchor="middle" fill="#231f20" textLength="10.34" lengthAdjust="spacingAndGlyphs" >0.9</text>
<line x1="372.96" y1="351.50" x2="372.96" y2="354.50" stroke="#231f20" stroke-width="1.0" />
<line x1="383.69" y1="351.50" x2="383.69" y2="354.50" stroke="#231f20" stroke-width="1.0" />
<text x="383.69" y="364.10" font-size="8.8" text-anchor="middle" fill="#231f20" textLength="10.34" lengthAdjust="spacingAndGlyphs" >1.2</text>
<line x1="394.42" y1="351.50" x2="394.42" y2="354.50" stroke="#231f20" stroke-width="1.0" />
<line x1="405.14" y1="351.50" x2="405.14" y2="354.50" stroke="#231f20" stroke-width="1.0" />
<text x="405.14" y="364.10" font-size="8.8" text-anchor="middle" fill="#231f20" textLength="10.34" lengthAdjust="spacingAndGlyphs" >1.5</text>
<line x1="415.87" y1="351.50" x2="415.87" y2="354.50" stroke="#231f20" stroke-width="1.0" />
<line x1="426.60" y1="351.50" x2="426.60" y2="354.50" stroke="#231f20" stroke-width="1.0" />
<text x="426.60" y="364.10" font-size="8.8" text-anchor="middle" fill="#231f20" textLength="10.34" lengthAdjust="spacingAndGlyphs" >1.8</text>
<line x1="437.32" y1="351.50" x2="437.32" y2="354.50" stroke="#231f20" stroke-width="1.0" />
<line x1="448.05" y1="351.50" x2="448.05" y2="354.50" stroke="#231f20" stroke-width="1.0" />
<text x="448.05" y="364.10" font-size="8.8" text-anchor="middle" fill="#231f20" textLength="10.34" lengthAdjust="spacingAndGlyphs" >2.1</text>
<line x1="458.78" y1="351.50" x2="458.78" y2="354.50" stroke="#231f20" stroke-width="1.0" />
<line x1="469.50" y1="351.50" x2="469.50" y2="354.50" stroke="#231f20" stroke-width="1.0" />
<text x="469.50" y="364.10" font-size="8.8" text-anchor="middle" fill="#231f20" textLength="10.34" lengthAdjust="spacingAndGlyphs" >2.4</text>
<line x1="480.23" y1="351.50" x2="480.23" y2="354.50" stroke="#231f20" stroke-width="1.0" />
<text x="396.00" y="376.60" font-size="9.6" text-anchor="middle" fill="#231f20" textLength="75" lengthAdjust="spacingAndGlyphs" >Eluted volume (ml)</text>
<text transform="translate(279.90,289.40) rotate(-90)" font-size="9.6" text-anchor="middle" fill="#231f20" textLength="76.7" lengthAdjust="spacingAndGlyphs" >Radioactivity (cpm)</text>
<path d="M308.60,351.50 L319.33,349.20 L330.05,350.00 L340.78,349.00 L351.51,349.40 L362.24,349.20 L372.96,349.70 L383.69,349.20 L394.42,348.90 L405.14,349.50 L415.87,349.00 L426.60,340.10 L437.32,237.40 L448.05,329.00 L458.78,343.10 L469.50,346.80 L480.23,347.70" fill="none" stroke="#7baa5e" stroke-width="1.0"/>
<path d="M308.60,351.50 L319.33,351.00 L330.05,346.50 L340.78,316.50 L351.51,257.10 L362.24,343.50 L372.96,347.30 L383.69,351.00 L394.42,351.00 L405.14,351.00 L415.87,351.00 L426.60,346.50 L437.32,332.40 L448.05,347.30 L458.78,351.00 L469.50,351.00" fill="none" stroke="#aa3a52" stroke-width="1.0"/>
<path d="M308.60,351.50 L319.33,351.50 L330.05,350.00 L340.78,351.50 L351.51,342.90 L362.24,351.50 L372.96,351.50 L383.69,351.50 L394.42,351.50 L405.14,351.50 L415.87,348.80 L426.60,320.80 L437.32,250.50 L448.05,336.80 L458.78,351.00 L469.50,349.30 L480.23,349.00" fill="none" stroke="#4e6a8e" stroke-width="1.0"/>
<path d="M308.60,349.70 L310.00,351.50 L308.60,353.30 L307.20,351.50 Z" fill="#fff" stroke="#aa3a52" stroke-width="0.7"/>
<path d="M319.33,349.20 L320.73,351.00 L319.33,352.80 L317.93,351.00 Z" fill="#fff" stroke="#aa3a52" stroke-width="0.7"/>
<path d="M330.05,344.70 L331.45,346.50 L330.05,348.30 L328.65,346.50 Z" fill="#fff" stroke="#aa3a52" stroke-width="0.7"/>
<path d="M340.78,314.70 L342.18,316.50 L340.78,318.30 L339.38,316.50 Z" fill="#fff" stroke="#aa3a52" stroke-width="0.7"/>
<path d="M351.51,255.30 L352.91,257.10 L351.51,258.90 L350.11,257.10 Z" fill="#fff" stroke="#aa3a52" stroke-width="0.7"/>
<path d="M362.24,341.70 L363.63,343.50 L362.24,345.30 L360.84,343.50 Z" fill="#fff" stroke="#aa3a52" stroke-width="0.7"/>
<path d="M372.96,345.50 L374.36,347.30 L372.96,349.10 L371.56,347.30 Z" fill="#fff" stroke="#aa3a52" stroke-width="0.7"/>
<path d="M383.69,349.20 L385.09,351.00 L383.69,352.80 L382.29,351.00 Z" fill="#fff" stroke="#aa3a52" stroke-width="0.7"/>
<path d="M394.42,349.20 L395.82,351.00 L394.42,352.80 L393.02,351.00 Z" fill="#fff" stroke="#aa3a52" stroke-width="0.7"/>
<path d="M405.14,349.20 L406.54,351.00 L405.14,352.80 L403.74,351.00 Z" fill="#fff" stroke="#aa3a52" stroke-width="0.7"/>
<path d="M415.87,349.20 L417.27,351.00 L415.87,352.80 L414.47,351.00 Z" fill="#fff" stroke="#aa3a52" stroke-width="0.7"/>
<path d="M426.60,344.70 L428.00,346.50 L426.60,348.30 L425.20,346.50 Z" fill="#fff" stroke="#aa3a52" stroke-width="0.7"/>
<path d="M437.32,330.60 L438.72,332.40 L437.32,334.20 L435.92,332.40 Z" fill="#fff" stroke="#aa3a52" stroke-width="0.7"/>
<path d="M448.05,345.50 L449.45,347.30 L448.05,349.10 L446.65,347.30 Z" fill="#fff" stroke="#aa3a52" stroke-width="0.7"/>
<path d="M458.78,349.20 L460.18,351.00 L458.78,352.80 L457.38,351.00 Z" fill="#fff" stroke="#aa3a52" stroke-width="0.7"/>
<path d="M469.50,349.20 L470.90,351.00 L469.50,352.80 L468.11,351.00 Z" fill="#fff" stroke="#aa3a52" stroke-width="0.7"/>
<circle cx="308.60" cy="351.50" r="1.5" fill="#fff" stroke="#7baa5e" stroke-width="0.8"/>
<circle cx="319.33" cy="349.20" r="1.5" fill="#fff" stroke="#7baa5e" stroke-width="0.8"/>
<circle cx="330.05" cy="350.00" r="1.5" fill="#fff" stroke="#7baa5e" stroke-width="0.8"/>
<circle cx="340.78" cy="349.00" r="1.5" fill="#fff" stroke="#7baa5e" stroke-width="0.8"/>
<circle cx="351.51" cy="349.40" r="1.5" fill="#fff" stroke="#7baa5e" stroke-width="0.8"/>
<circle cx="362.24" cy="349.20" r="1.5" fill="#fff" stroke="#7baa5e" stroke-width="0.8"/>
<circle cx="372.96" cy="349.70" r="1.5" fill="#fff" stroke="#7baa5e" stroke-width="0.8"/>
<circle cx="383.69" cy="349.20" r="1.5" fill="#fff" stroke="#7baa5e" stroke-width="0.8"/>
<circle cx="394.42" cy="348.90" r="1.5" fill="#fff" stroke="#7baa5e" stroke-width="0.8"/>
<circle cx="405.14" cy="349.50" r="1.5" fill="#fff" stroke="#7baa5e" stroke-width="0.8"/>
<circle cx="415.87" cy="349.00" r="1.5" fill="#fff" stroke="#7baa5e" stroke-width="0.8"/>
<circle cx="426.60" cy="340.10" r="1.5" fill="#fff" stroke="#7baa5e" stroke-width="0.8"/>
<circle cx="437.32" cy="237.40" r="1.5" fill="#fff" stroke="#7baa5e" stroke-width="0.8"/>
<circle cx="448.05" cy="329.00" r="1.5" fill="#fff" stroke="#7baa5e" stroke-width="0.8"/>
<circle cx="458.78" cy="343.10" r="1.5" fill="#fff" stroke="#7baa5e" stroke-width="0.8"/>
<circle cx="469.50" cy="346.80" r="1.5" fill="#fff" stroke="#7baa5e" stroke-width="0.8"/>
<circle cx="480.23" cy="347.70" r="1.5" fill="#fff" stroke="#7baa5e" stroke-width="0.8"/>
<path d="M308.60,349.30 L310.50,352.80 L306.70,352.80 Z" fill="#4e6a8e" stroke="#4e6a8e" stroke-width="0.4"/>
<path d="M319.33,349.30 L321.23,352.80 L317.43,352.80 Z" fill="#4e6a8e" stroke="#4e6a8e" stroke-width="0.4"/>
<path d="M330.05,347.80 L331.95,351.30 L328.15,351.30 Z" fill="#4e6a8e" stroke="#4e6a8e" stroke-width="0.4"/>
<path d="M340.78,349.30 L342.68,352.80 L338.88,352.80 Z" fill="#4e6a8e" stroke="#4e6a8e" stroke-width="0.4"/>
<path d="M351.51,340.70 L353.41,344.20 L349.61,344.20 Z" fill="#4e6a8e" stroke="#4e6a8e" stroke-width="0.4"/>
<path d="M362.24,349.30 L364.13,352.80 L360.34,352.80 Z" fill="#4e6a8e" stroke="#4e6a8e" stroke-width="0.4"/>
<path d="M372.96,349.30 L374.86,352.80 L371.06,352.80 Z" fill="#4e6a8e" stroke="#4e6a8e" stroke-width="0.4"/>
<path d="M383.69,349.30 L385.59,352.80 L381.79,352.80 Z" fill="#4e6a8e" stroke="#4e6a8e" stroke-width="0.4"/>
<path d="M394.42,349.30 L396.32,352.80 L392.52,352.80 Z" fill="#4e6a8e" stroke="#4e6a8e" stroke-width="0.4"/>
<path d="M405.14,349.30 L407.04,352.80 L403.24,352.80 Z" fill="#4e6a8e" stroke="#4e6a8e" stroke-width="0.4"/>
<path d="M415.87,346.60 L417.77,350.10 L413.97,350.10 Z" fill="#4e6a8e" stroke="#4e6a8e" stroke-width="0.4"/>
<path d="M426.60,318.60 L428.50,322.10 L424.70,322.10 Z" fill="#4e6a8e" stroke="#4e6a8e" stroke-width="0.4"/>
<path d="M437.32,248.30 L439.22,251.80 L435.42,251.80 Z" fill="#4e6a8e" stroke="#4e6a8e" stroke-width="0.4"/>
<path d="M448.05,334.60 L449.95,338.10 L446.15,338.10 Z" fill="#4e6a8e" stroke="#4e6a8e" stroke-width="0.4"/>
<path d="M458.78,348.80 L460.68,352.30 L456.88,352.30 Z" fill="#4e6a8e" stroke="#4e6a8e" stroke-width="0.4"/>
<path d="M469.50,347.10 L471.40,350.60 L467.61,350.60 Z" fill="#4e6a8e" stroke="#4e6a8e" stroke-width="0.4"/>
<path d="M480.23,346.80 L482.13,350.30 L478.33,350.30 Z" fill="#4e6a8e" stroke="#4e6a8e" stroke-width="0.4"/>
<rect x="0" y="0" width="520" height="1" fill="#444"/>
<rect x="0" y="1" width="520" height="1" fill="#aaa"/>
<rect x="0" y="0" width="2" height="388" fill="#444"/>
<rect x="2" y="1" width="1" height="386" fill="#ccc"/>
<rect x="518" y="1" width="1" height="386" fill="#c8c8c8"/>
<rect x="519" y="0" width="1" height="388" fill="#151515"/>
<rect x="0" y="386" width="520" height="1" fill="#8a8a8a"/>
<rect x="0" y="387" width="520" height="1" fill="#444"/>
</svg>
</body></html>
